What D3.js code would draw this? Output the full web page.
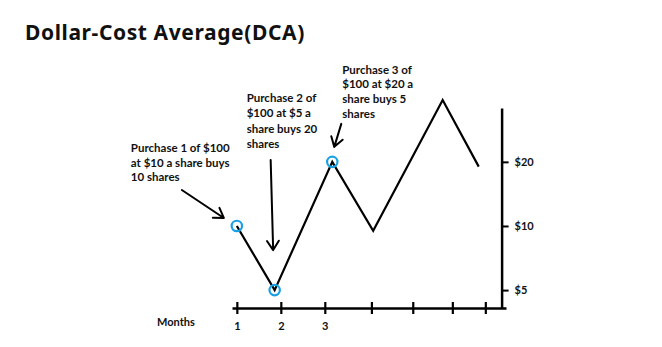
<!DOCTYPE html>
<html>
<head>
<meta charset="utf-8">
<script src="https://cdn.jsdelivr.net/npm/d3@7"></script>
<style>
  html, body { margin: 0; padding: 0; background: #fff; }
  svg { display: block; }
  .note { font-family: Lato, "Open Sans", sans-serif; font-weight: 700; font-size: 11.5px; fill: #111; }
</style>
</head>
<body>
<svg id="chart" width="662" height="347"></svg>
<script>
// Price path over the months (month position, share price in $)
const months = [1, 1.86, 3.17, 4.1, 5.68, 6.5];
const prices = [10, 5, 20, 9.5, 39, 19];

// Monthly purchases: index into the price path and the note text
const purchaseIndex = [0, 1, 2];
const purchaseNotes = [
  ["Purchase 1 of $100", "at $10 a share buys", "10 shares"],
  ["Purchase 2 of", "$100 at $5 a", "share buys 20", "shares"],
  ["Purchase 3 of", "$100 at $20 a", "share buys 5", "shares"]
];

// Axis ticks
const monthTicks = [1, 2, 3, 4.06, 5, 5.9, 6.65];
const monthLabels = ["1", "2", "3", "", "", "", ""];
const priceTicks = [5, 10, 20];
const axisMonth = 7.02;

const svg = d3.select("#chart");

svg.append("text")
  .attr("x", 25).attr("y", 40)
  .style("font-family", "'Noto Sans', Lato, sans-serif")
  .style("font-weight", 700)
  .style("font-size", "21px")
  .style("letter-spacing", "0.6px")
  .attr("fill", "#111")
  .text("Dollar-Cost Average(DCA)");

const x = d3.scaleLinear().domain([0.89, 7.12]).range([232, 506]);
const y = d3.scaleLog().domain([4.12, 35.8]).range([308, 108]);

// X axis with cross ticks
const xAxis = d3.axisBottom(x)
  .tickValues(monthTicks)
  .tickFormat((d, i) => monthLabels[i])
  .tickSize(6)
  .tickSizeOuter(0)
  .tickPadding(8);

const gx = svg.append("g")
  .attr("transform", `translate(0,${y(4.12)})`)
  .call(xAxis);
gx.select(".domain").attr("stroke", "#000").attr("stroke-width", 2.5);
gx.selectAll(".tick line").attr("y1", -6).attr("y2", 6).attr("stroke", "#000").attr("stroke-width", 2.2);
gx.selectAll(".tick text")
  .style("font-family", "Lato, 'Open Sans', sans-serif")
  .style("font-weight", 700)
  .style("font-size", "11px")
  .attr("fill", "#111");

svg.append("text")
  .attr("x", 157).attr("y", 326)
  .style("font-family", "Lato, 'Open Sans', sans-serif")
  .style("font-weight", 700)
  .style("font-size", "11px")
  .attr("fill", "#111")
  .text("Months");

// Y axis on the right
const yAxis = d3.axisRight(y)
  .tickValues(priceTicks)
  .tickFormat(d => "$" + d)
  .tickSize(7)
  .tickSizeOuter(0)
  .tickPadding(6);

const gy = svg.append("g")
  .attr("transform", `translate(${x(axisMonth)},0)`)
  .call(yAxis);
gy.select(".domain").attr("stroke", "#000").attr("stroke-width", 2.5);
gy.selectAll(".tick line").attr("stroke", "#000").attr("stroke-width", 2);
gy.selectAll(".tick text")
  .style("font-family", "Lato, 'Open Sans', sans-serif")
  .style("font-weight", 700)
  .style("font-size", "11px")
  .attr("fill", "#111");

// Price line
const pts = months.map((m, i) => [x(m), y(prices[i])]);
svg.append("path")
  .attr("d", d3.line()(pts))
  .attr("fill", "none")
  .attr("stroke", "#000")
  .attr("stroke-width", 2.2)
  .attr("stroke-linejoin", "miter");

// Purchase markers
svg.selectAll("circle.buy")
  .data(purchaseIndex)
  .join("circle")
  .attr("class", "buy")
  .attr("cx", i => pts[i][0])
  .attr("cy", i => pts[i][1])
  .attr("r", 5.2)
  .attr("fill", "none")
  .attr("stroke", "#1aa0e4")
  .attr("stroke-width", 2.2);

// Arrow geometry relative to each purchase point: tail offset, tip offset
const arrowOffsets = [
  { tail: [-55, -36], tip: [-13, -8] },
  { tail: [-4, -130], tip: [-1.5, -40] },
  { tail: [9, -38], tip: [2, -15] }
];
// Note anchor relative to each purchase point (left x, first baseline)
const noteOffsets = [[-106, -74], [-28, -188], [10, -88]];
const noteLeading = [14.6, 15.3, 14.6];

purchaseIndex.forEach((pi, k) => {
  const [px, py] = pts[pi];
  const a = arrowOffsets[k];
  const x1 = px + a.tail[0], y1 = py + a.tail[1];
  const x2 = px + a.tip[0], y2 = py + a.tip[1];
  const ang = Math.atan2(y2 - y1, x2 - x1);
  const L = 11, spread = Math.PI / 5.5;
  const h1 = [x2 - L * Math.cos(ang - spread), y2 - L * Math.sin(ang - spread)];
  const h2 = [x2 - L * Math.cos(ang + spread), y2 - L * Math.sin(ang + spread)];
  svg.append("path")
    .attr("d", `M${x1},${y1}L${x2},${y2}M${h1[0]},${h1[1]}L${x2},${y2}L${h2[0]},${h2[1]}`)
    .attr("fill", "none")
    .attr("stroke", "#000")
    .attr("stroke-width", 2)
    .attr("stroke-linecap", "round")
    .attr("stroke-linejoin", "round");

  const t = svg.append("text")
    .attr("class", "note")
    .attr("x", px + noteOffsets[k][0])
    .attr("y", py + noteOffsets[k][1]);
  t.selectAll("tspan")
    .data(purchaseNotes[k])
    .join("tspan")
    .attr("x", px + noteOffsets[k][0])
    .attr("dy", (d, i) => i === 0 ? 0 : noteLeading[k])
    .text(d => d);
});
</script>
</body>
</html>
